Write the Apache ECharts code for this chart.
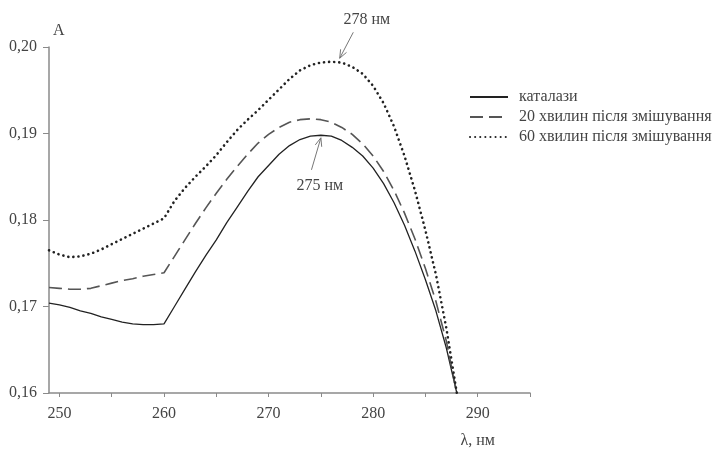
<!DOCTYPE html>
<html>
<head>
<meta charset="utf-8">
<script src="https://cdn.jsdelivr.net/npm/echarts@6/dist/echarts.min.js"></script>
<style>
  html, body { margin: 0; padding: 0; background: #fff; }
  #chart { width: 717px; height: 450px; }
</style>
</head>
<body>
<div id="chart"></div>
<script>
// wavelength, nm
const wavelengths = [249, 250, 251, 252, 253, 254, 255, 256, 257, 258, 259, 260,
  261, 262, 263, 264, 265, 266, 267, 268, 269, 270, 271, 272, 273, 274, 275,
  276, 277, 278, 279, 280, 281, 282, 283, 284, 285, 286, 287, 288];

// absorbance
const catalase = [0.1704, 0.1702, 0.1699, 0.1695, 0.1692, 0.1688, 0.1685, 0.1682, 0.1680, 0.1679, 0.1679, 0.1680,
  0.1700, 0.1720, 0.1740, 0.1759, 0.1777, 0.1797, 0.1815, 0.1833, 0.1850, 0.1863, 0.1876, 0.1886, 0.1893, 0.1897, 0.1898,
  0.1897, 0.1892, 0.1884, 0.1874, 0.1860, 0.1842, 0.1820, 0.1794, 0.1764, 0.1731, 0.1695, 0.1652, 0.1600];

const after20 = [0.1722, 0.1721, 0.1720, 0.1720, 0.1721, 0.1724, 0.1727, 0.1730, 0.1732, 0.1735, 0.1737, 0.1739,
  0.1758, 0.1777, 0.1796, 0.1814, 0.1831, 0.1847, 0.1862, 0.1876, 0.1889, 0.1899, 0.1907, 0.1913, 0.1916, 0.1917, 0.1916,
  0.1913, 0.1907, 0.1899, 0.1888, 0.1874, 0.1856, 0.1834, 0.1808, 0.1778, 0.1744, 0.1706, 0.1660, 0.1600];

const after60 = [0.1765, 0.1760, 0.1757, 0.1758, 0.1761, 0.1766, 0.1772, 0.1778, 0.1784, 0.1790, 0.1796, 0.1802,
  0.1822, 0.1837, 0.1850, 0.1862, 0.1875, 0.1890, 0.1904, 0.1916, 0.1927, 0.1939, 0.1951, 0.1963, 0.1973, 0.1979, 0.1982,
  0.1983, 0.1982, 0.1977, 0.1969, 0.1955, 0.1935, 0.1908, 0.1874, 0.1834, 0.1788, 0.1737, 0.1675, 0.1600];

const seriesNames = ['каталази', '20 хвилин після змішування', '60 хвилин після змішування'];

const xLabelValues = [250, 260, 270, 280, 290];
const xTickValues = [250, 255, 260, 265, 270, 275, 280, 285, 290, 295];

// peak notes: label, text anchor [x, y], arrow start, arrow tip
const peakNotes = [
  {text: '278 нм', at: [279.4, 0.2032], from: [278.1, 0.2017], to: [276.8, 0.1987]},
  {text: '275 нм', at: [274.9, 0.1840], from: [274.1, 0.1858], to: [275.0, 0.1895]},
];

const font = '"Liberation Serif", "DejaVu Serif", serif';
const axisColor = '#8a8a8a';
const textColor = '#444';

const pairs = (ys) => wavelengths.map((w, i) => [w, ys[i]]);

const chart = echarts.init(document.getElementById('chart'), null, {renderer: 'canvas'});

chart.setOption({
  animation: false,
  backgroundColor: '#fff',
  textStyle: {fontFamily: font},
  grid: {left: 49, top: 47, right: 187, bottom: 57},
  legend: {
    orient: 'vertical',
    left: 464,
    top: 84,
    itemWidth: 38,
    itemHeight: 12,
    itemGap: 4,
    data: seriesNames,
    itemStyle: {opacity: 0},
    textStyle: {fontFamily: font, fontSize: 16, color: textColor, padding: [0, 0, 0, 6]},
  },
  xAxis: {
    type: 'value',
    min: 249,
    max: 295,
    axisLine: {lineStyle: {color: axisColor, width: 1.5}},
    axisTick: {show: true, length: 4, customValues: xTickValues, lineStyle: {color: axisColor}},
    axisLabel: {customValues: xLabelValues, margin: 13, fontSize: 16, color: textColor, fontFamily: font},
    splitLine: {show: false},
  },
  yAxis: {
    type: 'value',
    min: 0.16,
    max: 0.20,
    interval: 0.01,
    axisLine: {show: true, lineStyle: {color: axisColor, width: 1.5}},
    axisTick: {show: true, length: 6, lineStyle: {color: axisColor}},
    axisLabel: {
      margin: 12,
      fontSize: 16,
      color: textColor,
      fontFamily: font,
      formatter: (v) => v.toFixed(2).replace('.', ','),
    },
    splitLine: {show: false},
  },
  series: [
    {
      name: seriesNames[0],
      type: 'line',
      symbol: 'none',
      data: pairs(catalase),
      lineStyle: {color: '#222', width: 1.3},
      itemStyle: {color: '#222'},
    },
    {
      name: seriesNames[1],
      type: 'line',
      symbol: 'none',
      data: pairs(after20),
      lineStyle: {color: '#555', width: 1.6, type: [13, 6]},
      itemStyle: {color: '#555'},
    },
    {
      name: seriesNames[2],
      type: 'line',
      symbol: 'none',
      data: pairs(after60),
      lineStyle: {color: '#222', width: 2.6, type: [0.1, 5], cap: 'round'},
      itemStyle: {color: '#222'},
    },
  ],
});

// axis titles and peak arrows, placed from data coordinates
function drawNotes() {
  const px = (p) => chart.convertToPixel({gridIndex: 0}, p);
  const els = [];
  const yTop = px([249, 0.20]);
  els.push({
    type: 'text', x: yTop[0] + 4, y: yTop[1] - 8,
    style: {text: 'A', font: '16px ' + font, fill: textColor, textAlign: 'left', textVerticalAlign: 'bottom'},
  });
  const xName = px([290, 0.16]);
  els.push({
    type: 'text', x: xName[0], y: xName[1] + 48,
    style: {text: 'λ, нм', font: '16px ' + font, fill: textColor, textAlign: 'center', textVerticalAlign: 'middle'},
  });
  peakNotes.forEach((n) => {
    const t = px(n.at);
    const a = px(n.from);
    const b = px(n.to);
    els.push({
      type: 'text', x: t[0], y: t[1],
      style: {text: n.text, font: '16px ' + font, fill: textColor, textAlign: 'center', textVerticalAlign: 'middle'},
    });
    const ang = Math.atan2(a[1] - b[1], a[0] - b[0]);
    const h = 9;
    const spread = 0.38;
    els.push({
      type: 'polyline', silent: true,
      shape: {points: [a, b]},
      style: {stroke: '#777', lineWidth: 1, fill: null},
    });
    els.push({
      type: 'polyline', silent: true,
      shape: {points: [
        [b[0] + h * Math.cos(ang - spread), b[1] + h * Math.sin(ang - spread)],
        b,
        [b[0] + h * Math.cos(ang + spread), b[1] + h * Math.sin(ang + spread)],
      ]},
      style: {stroke: '#777', lineWidth: 1, fill: null},
    });
  });
  chart.setOption({graphic: els});
}

drawNotes();
</script>
</body>
</html>
